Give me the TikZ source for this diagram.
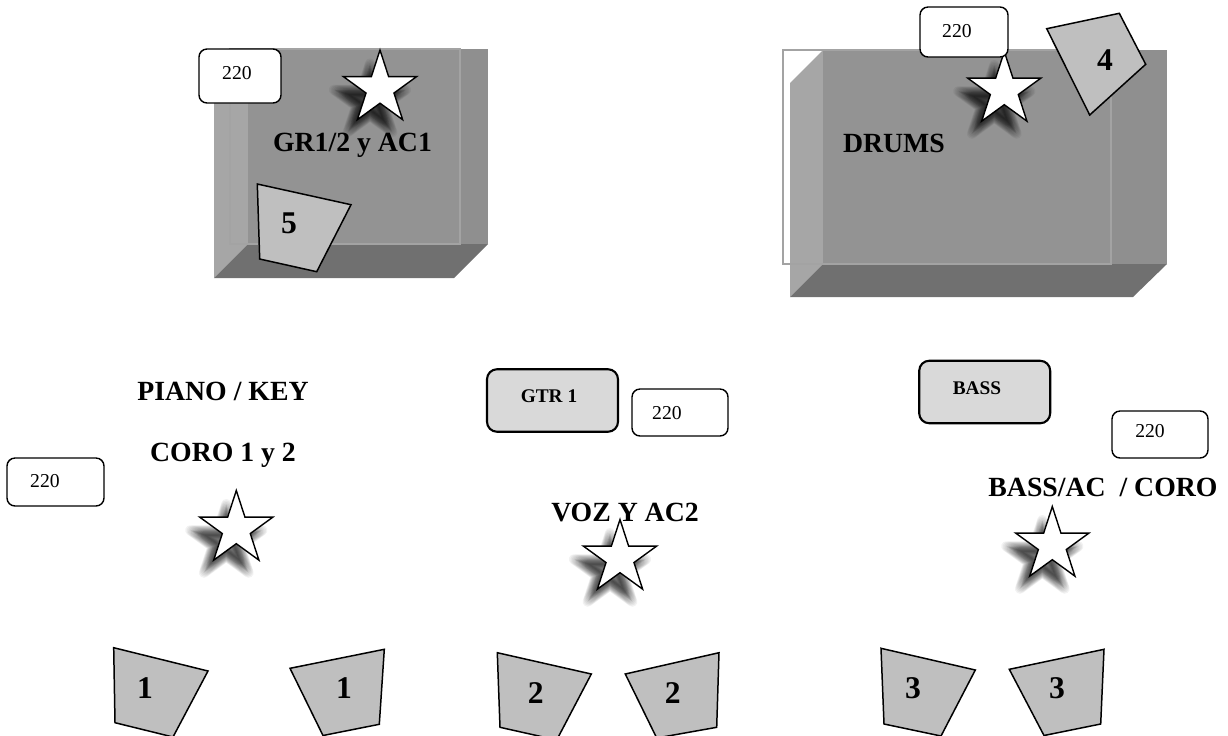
\documentclass[tikz,border=0pt]{standalone}
\usepackage{fontspec}
\setmainfont{Liberation Serif}
\usepackage{xcolor}
\usetikzlibrary{shapes.geometric}

\definecolor{facefront}{HTML}{939393}
\definecolor{faceleft}{HTML}{A6A6A6}
\definecolor{faceright}{HTML}{8F8F8F}
\definecolor{facebottom}{HTML}{707070}
\definecolor{edgeline}{HTML}{A3A3A3}
\definecolor{wedgefill}{HTML}{BFBFBF}
\definecolor{ampfill}{HTML}{D9D9D9}

\begin{document}
\begin{tikzpicture}[
    x=0.02cm, y=-0.02cm,
    stagelbl/.style={font=\fontsize{15.8}{16}\selectfont\bfseries, inner sep=0pt, text height=10.4pt, text depth=0pt},
    numlbl/.style={font=\fontsize{18}{18}\selectfont\bfseries, inner sep=0pt},
    amplbl/.style={font=\fontsize{11}{12}\selectfont\bfseries, inner sep=0pt, text height=7.3pt, text depth=0pt},
    powerlbl/.style={font=\fontsize{11.2}{12}\selectfont, inner sep=0pt},
    powerbox/.style={draw=black, fill=white, line width=0.8pt, rounded corners=0.16cm, inner sep=0pt},
    ampbox/.style={draw=black, fill=ampfill, line width=1.2pt, rounded corners=0.2cm, inner sep=0pt},
    wedge/.style={draw=black, fill=wedgefill, line width=0.85pt, line join=miter},
    mic/.style={star, star points=5, star point ratio=2.618, minimum size=1.54cm, inner sep=0pt, draw=black, fill=white, line width=0.8pt},
    micblur/.style={star, star points=5, star point ratio=2.618, inner sep=0pt, fill=black, draw=black, line width=0.2cm, line join=round, opacity=0.05},
]
\useasboundingbox (0,0) rectangle (1228,735);

% guitar riser
\fill[faceleft]   (214,83) -- (248,49) -- (248,244) -- (214,278) -- cycle;
\fill[facefront]  (248,49) rectangle (460,244);
\fill[faceright]  (460,49) rectangle (488,244);
\fill[facebottom] (214,278) -- (248,244) -- (488,244) -- (454,278) -- cycle;
\draw[edgeline, line width=0.8pt] (230,49) rectangle (460,244);

% drum riser
\fill[faceleft]   (790,83) -- (823,50) -- (823,264) -- (790,297) -- cycle;
\fill[facefront]  (823,50) rectangle (1111,264);
\fill[faceright]  (1111,50) rectangle (1167,264);
\fill[facebottom] (790,297) -- (823,264) -- (1167,264) -- (1133,297) -- cycle;
\draw[edgeline, line width=0.8pt] (783,50) rectangle (1111,264);

\node[stagelbl] (gr) at (352.5,142) {GR1/2 y AC1};
\node[stagelbl] (drums) at (894,143) {DRUMS};
\node[stagelbl] (piano) at (223,391) {PIANO / KEY};
\node[stagelbl] (coro) at (223,452) {CORO 1 y 2};
\node[stagelbl] (voz) at (625,512) {VOZ Y AC2};
\node[stagelbl] (bassac) at (1103,487) {BASS/AC~~/ CORO};

% mics with soft shadow
\foreach \id/\x/\y in {a/380/88.5, b/1004.3/90, c/236.3/529, d/620/558, e/1052.3/545} {
    \foreach \s in {76,73,...,43}
        \node[micblur, minimum size=\s*0.02cm] (blur\id\s) at (\x-10,\y+13) {};
    \node[mic] (mic\id) at (\x,\y) {};
}

% monitors
\foreach \id/\pa/\pb/\pc/\pd/\lblpos/\num in {
    five/{(257.3,184)}/{(351,204.7)}/{(316.7,271.7)}/{(259.7,259)}/{(289,223)}/5,
    four/{(1046.7,28.7)}/{(1119.3,13.3)}/{(1145.7,64.3)}/{(1089.7,115)}/{(1105,60)}/4,
    onel/{(113.7,647.7)}/{(208,671)}/{(173,737)}/{(115,722.7)}/{(145,688)}/1,
    oner/{(290,668.3)}/{(384.3,649.3)}/{(379.3,724.3)}/{(323,735.5)}/{(344,688)}/1,
    twol/{(497.3,652.7)}/{(591.3,674)}/{(556.7,740)}/{(500,727.3)}/{(535.7,693)}/2,
    twor/{(625.3,674)}/{(719,652.7)}/{(716.7,727.3)}/{(656.7,738)}/{(672.7,693)}/2,
    threel/{(881,648.3)}/{(975.3,670)}/{(941,736)}/{(884,724)}/{(913,688)}/3,
    threer/{(1009.3,669.3)}/{(1104,649.3)}/{(1100.7,724)}/{(1044,735.5)}/{(1057,688)}/3} {
    \draw[wedge] \pa -- \pb -- \pc -- \pd -- cycle;
    \node[numlbl] (mon\id) at \lblpos {\num};
}

% amps
\node[ampbox, minimum width=2.62cm, minimum height=1.25cm] (gtrbox) at (552.5,400.5) {};
\node[amplbl] (gtr) at (549,396) {GTR 1};
\node[ampbox, minimum width=2.62cm, minimum height=1.25cm] (bassbox) at (984.7,392) {};
\node[amplbl] (bass) at (977,388) {BASS};

% power drops
\foreach \id/\x/\y/\w/\h/\tx/\ty in {
    a/240/76/1.64/1.08/237/73,
    b/964/32/1.76/1.0/957/31,
    c/55.5/482/1.94/0.96/45/481,
    d/680/412.5/1.92/0.94/667/413,
    e/1160/434.5/1.92/0.94/1150/431} {
    \node[powerbox, minimum width=\w cm, minimum height=\h cm] (pow\id) at (\x,\y) {};
    \node[powerlbl] (powlbl\id) at (\tx,\ty) {220};
}
\end{tikzpicture}
\end{document}
